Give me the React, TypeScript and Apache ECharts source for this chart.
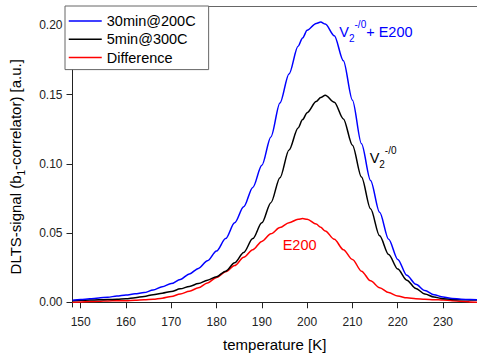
import React, { useEffect, useRef } from "react";
import * as echarts from "echarts";

const temps = [148.2, 150, 152, 154, 156, 158, 160, 162, 164, 166, 168, 170, 172, 174, 176, 178, 180, 182, 184, 186, 188, 190, 192, 194, 196, 198, 199, 200, 202, 203, 204, 206, 208, 210, 212, 214, 216, 218, 220, 222, 224, 226, 228, 230, 232, 234, 236, 237.5];

const blueValues = [0.0015, 0.002, 0.0025, 0.0031, 0.0037, 0.0045, 0.0053, 0.0061, 0.007, 0.0088, 0.0112, 0.0135, 0.0165, 0.0205, 0.0245, 0.03, 0.037, 0.046, 0.0575, 0.069, 0.083, 0.099, 0.1195, 0.144, 0.165, 0.185, 0.191, 0.1965, 0.2015, 0.2025, 0.201, 0.1925, 0.1745, 0.146, 0.1145, 0.088, 0.065, 0.0455, 0.031, 0.0195, 0.013, 0.0085, 0.0055, 0.0038, 0.0028, 0.0022, 0.002, 0.0019];

const blackValues = [0.0012, 0.0014, 0.0016, 0.0018, 0.002, 0.0022, 0.0025, 0.0033, 0.0042, 0.0055, 0.0066, 0.0078, 0.0097, 0.0115, 0.0135, 0.016, 0.0185, 0.0225, 0.0285, 0.036, 0.046, 0.0575, 0.072, 0.09, 0.11, 0.126, 0.132, 0.137, 0.145, 0.148, 0.1496, 0.1445, 0.1325, 0.1135, 0.0905, 0.0675, 0.048, 0.0345, 0.024, 0.016, 0.01, 0.006, 0.0038, 0.0026, 0.002, 0.0018, 0.0017, 0.0017];

const redValues = [0.0, 0.0003, 0.0005, 0.0007, 0.001, 0.0011, 0.0012, 0.0015, 0.0018, 0.0022, 0.003, 0.0042, 0.006, 0.008, 0.0105, 0.014, 0.018, 0.022, 0.0265, 0.0325, 0.038, 0.044, 0.0495, 0.054, 0.0575, 0.06, 0.0605, 0.06, 0.0565, 0.0542, 0.0515, 0.0455, 0.038, 0.031, 0.0225, 0.0155, 0.0105, 0.007, 0.0045, 0.0032, 0.0025, 0.0022, 0.0019, 0.0016, 0.0012, 0.0008, 0.0003, 0.0];

const seriesNames = ["30min@200C", "5min@300C", "Difference"];
const seriesColors = ["#0000ff", "#000000", "#ff0000"];

const xTicks = [150, 160, 170, 180, 190, 200, 210, 220, 230];
const yTicks = [0, 0.05, 0.1, 0.15, 0.2];

// annotation anchors in data coordinates [temperature, signal]
const blueNoteAt = [207.1, 0.1955];
const blackNoteAt = [213.8, 0.1044];
const redNoteAt = [194.6, 0.0416];

const FONT = "Liberation Sans, Arial, sans-serif";

const noteRich = (color: string) => ({
  m: { fontSize: 14.5, lineHeight: 24, color, fontFamily: FONT },
  sub: { fontSize: 10, lineHeight: 8, verticalAlign: "bottom", color, fontFamily: FONT },
  sup: { fontSize: 10, lineHeight: 12, verticalAlign: "top", color, fontFamily: FONT },
});

export default function App() {
  const ref = useRef<HTMLDivElement>(null);
  useEffect(() => {
    const chart = echarts.init(ref.current!, null, { renderer: "svg" });
    const valueSets = [blueValues, blackValues, redValues];
    const notes = [
      { at: blueNoteAt, text: "{m|V}{sub|2}{sup|-/0}{m|+ E200}" },
      { at: blackNoteAt, text: "{m|V}{sub|2}{sup|-/0}" },
      { at: redNoteAt, text: "{m|E200}" },
    ];
    const series = seriesNames.map((name, k) => ({
      type: "line",
      name,
      data: temps.map((t, i) => [t, valueSets[k][i]]),
      symbol: "none",
      showSymbol: false,
      smooth: 0.3,
      smoothMonotone: "x",
      lineStyle: { color: seriesColors[k], width: 1.5 },
      itemStyle: { color: seriesColors[k] },
      z: 3 - k,
      markPoint: {
        symbol: "circle",
        symbolSize: 0,
        silent: true,
        data: [{ coord: notes[k].at }],
        label: {
          show: true,
          position: "right",
          distance: 0,
          formatter: () => notes[k].text,
          rich: noteRich(seriesColors[k]),
        },
      },
    }));
    const axisCommon = {
      type: "value",
      axisLine: { show: true, lineStyle: { color: "#222", width: 1 } },
      axisTick: { show: true, inside: false, length: 6, lineStyle: { color: "#222" } },
      splitLine: { show: false },
    };
    chart.setOption({
      animation: false,
      backgroundColor: "#ffffff",
      textStyle: { fontFamily: FONT },
      grid: { left: 65, right: 0, top: 6.5, bottom: 45.5, containLabel: false },
      legend: {
        data: seriesNames,
        orient: "vertical",
        left: 65,
        top: 6,
        itemWidth: 33,
        itemHeight: 18,
        itemGap: 0.3,
        padding: [6, 13, 3, 3],
        borderColor: "#666",
        borderWidth: 1,
        backgroundColor: "#fff",
        itemStyle: { opacity: 0, borderWidth: 0 },
        lineStyle: { width: 1.5 },
        textStyle: { fontSize: 14.5, lineHeight: 18, color: "#000", fontFamily: FONT },
      },
      xAxis: [
        {
          ...axisCommon,
          position: "bottom",
          min: 148.2,
          max: 237.5,
          axisTick: { ...axisCommon.axisTick, customValues: xTicks },
          axisLabel: { customValues: xTicks, fontSize: 12, color: "#222", margin: 9, fontFamily: FONT },
          name: "temperature [K]",
          nameLocation: "middle",
          nameGap: 30,
          nameTextStyle: { fontSize: 15, color: "#000", fontFamily: FONT },
        },
        {
          type: "value",
          position: "top",
          min: 148.2,
          max: 237.5,
          axisLine: { show: true, lineStyle: { color: "#666", width: 1 } },
          axisTick: { show: false },
          axisLabel: { show: false },
          splitLine: { show: false },
        },
      ],
      yAxis: {
        ...axisCommon,
        min: -0.0034,
        max: 0.2137,
        axisTick: { ...axisCommon.axisTick, customValues: yTicks },
        axisLabel: {
          customValues: yTicks,
          fontSize: 12,
          color: "#222",
          margin: 10,
          fontFamily: FONT,
          formatter: (v: number) => v.toFixed(2),
        },
        name: "{a|DLTS-signal (b}{s|1}{a|-correlator) [a.u.]}",
        nameLocation: "middle",
        nameGap: 46,
        nameTextStyle: {
          padding: [0, 20, 0, 0],
          rich: {
            a: { fontSize: 15, lineHeight: 22, color: "#000", fontFamily: FONT },
            s: { fontSize: 10, lineHeight: 10, verticalAlign: "bottom", color: "#000", fontFamily: FONT },
          },
        },
      },
      series,
    });
    return () => chart.dispose();
  }, []);
  return <div ref={ref} style={{ position: "fixed", left: 0, top: 0, width: 477, height: 357 }} />;
}
